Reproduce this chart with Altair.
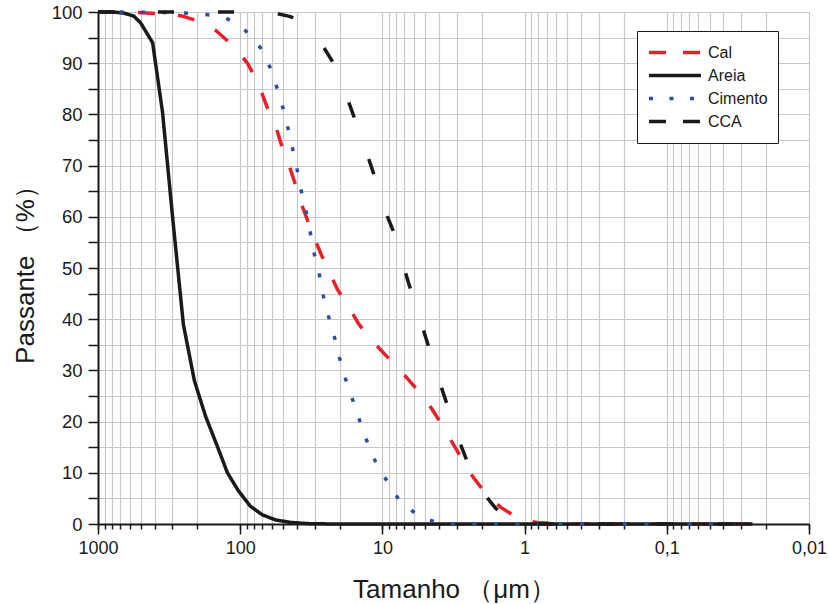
import altair as alt
import pandas as pd

series_names = ["Cal", "Areia", "Cimento", "CCA"]
series_colors = ["#e8202a", "#1a1a1a", "#2b4ea2", "#1a1a1a"]
line_dashes = [[17, 23], [1, 0], [4, 17.5], [16, 44]]
legend_dashes = [[17, 17], [1, 0], [4, 16.5], [17, 17]]

cal_size = [1000, 600, 309, 254, 184, 147, 108, 89, 75.6, 68.5, 61.2, 54.7, 49.6, 45, 40.8, 37.7,
            33.7, 30.5, 26.8, 23.9, 20.7, 17.6, 14.7, 11.9, 9.07, 7.1, 5.49, 4.52, 3.72, 3.21,
            2.69, 2.31, 1.80, 1.46, 1.07, 0.81, 0.6, 0.4, 0.025]
cal_pct = [100, 100, 99.5, 99.2, 97.9, 96.3, 93, 90, 86.4, 83.3, 79.6, 76.6, 72.7, 69.8, 66.2, 63,
           59.4, 56.2, 52.5, 49.6, 45.8, 42.8, 39.1, 35.9, 32.4, 29.3, 25.7, 22.6, 18.9, 15.8,
           12.2, 9.2, 5.3, 3.2, 0.8, 0.3, 0.05, 0, 0]

areia_size = [1000, 800, 662, 560, 502, 413, 352, 299, 251, 210, 175, 144, 123, 103, 85, 70,
              56.5, 44, 32, 20, 0.025]
areia_pct = [100, 100, 99.8, 99.2, 97.9, 94, 80.5, 60, 39, 28, 21, 15, 10, 6.5, 3.5, 1.8,
             0.8, 0.3, 0.05, 0, 0]

cimento_size = [1000, 672, 300, 200, 131, 94.8, 71.9, 61.2, 54.7, 49.6, 45.7, 42.5, 39.5, 37,
                34.2, 32, 30, 27.7, 26, 23.9, 21.7, 20, 18.2, 16.2, 14.5, 12.9, 11.2, 9.2,
                7.35, 5.23, 3.77, 0.025]
cimento_pct = [100, 100, 99.9, 99.7, 99.1, 96.8, 93, 89, 84.9, 80.9, 76.8, 72.9, 68.8, 64.7,
               60.7, 56.6, 52.5, 48.6, 44.5, 40.5, 36.4, 32.4, 28.4, 24.3, 20.3, 16.3, 12.2, 8.2,
               4.0, 1.2, 0, 0]

cca_size = [1000, 200, 61.2, 44.3, 35.9, 30.5, 26, 22.4, 18.5, 16.8, 12.9, 11.9, 9.2, 8.35,
            6.55, 6.04, 5.48, 4.59, 4.24, 3.84, 3.21, 2.97, 2.32, 1.98, 1.60, 1.36, 1.16, 0.91,
            0.025]
cca_pct = [100, 100, 100, 99.1, 97.8, 96, 93.2, 90.3, 84.6, 81.5, 72.5, 69.6, 60, 57.1,
           47.1, 44.1, 40.3, 33.5, 30.4, 26.6, 20.2, 17.2, 9.4, 6.3, 3.1, 1.4, 0.45, 0, 0]

major_ticks = [1000, 100, 10, 1, 0.1, 0.01]
minor_ticks = [round(d * k, 6) for d in [0.01, 0.1, 1, 10, 100] for k in range(1, 10)] + [1000]
y_ticks = list(range(0, 101, 5))

rows = []
for name, sizes, pcts in [("Cal", cal_size, cal_pct), ("Areia", areia_size, areia_pct),
                          ("Cimento", cimento_size, cimento_pct), ("CCA", cca_size, cca_pct)]:
    for i, (s, p) in enumerate(zip(sizes, pcts)):
        rows.append({"serie": name, "size": s, "pct": p, "idx": i})
df = pd.DataFrame(rows)

FONT = "Liberation Sans"
INK = "#1a1a1a"
GRID = "#c8c8cc"

xscale = alt.Scale(type="log", domain=[0.01, 1000], reverse=True, nice=False)
yscale = alt.Scale(domain=[0, 100], nice=False, zero=False)

y_enc = alt.Y(
    "pct:Q", scale=yscale,
    axis=alt.Axis(values=y_ticks, labelExpr="datum.value % 10 == 0 ? datum.label : ''",
                  tickSize=10, tickWidth=1.5, tickColor=INK, grid=True, gridColor=GRID,
                  gridWidth=1.2, domainColor=INK, domainWidth=2, labelFontSize=18.5,
                  labelPadding=6, labelColor=INK, labelFont=FONT,
                  title="Passante （%）", titleFontSize=26, titleFontWeight="normal",
                  titleFont=FONT, titleColor=INK, titleX=-73, titleY=256, titleAngle=270,
                  titleAlign="center", titleBaseline="middle"),
)

grid_layer = alt.Chart(df).mark_point(opacity=0).encode(
    x=alt.X("size:Q", scale=xscale,
            axis=alt.Axis(orient="bottom", values=minor_ticks, grid=True, gridColor=GRID,
                          gridWidth=1.2, ticks=True, tickSize=5, tickWidth=1.5, tickColor=INK,
                          labels=False, domain=False, title=None)),
    y=y_enc,
)

leg = alt.Legend(title=None, orient="none", legendX=539, legendY=19, symbolType="stroke",
                 symbolSize=2704, symbolStrokeWidth=3.5, labelFontSize=16, labelFont=FONT,
                 labelColor=INK, labelOffset=5, padding=10, strokeColor=INK, fillColor="white",
                 clipHeight=23, rowPadding=0, cornerRadius=0)

lines = alt.Chart(df).mark_line(strokeWidth=3.5, strokeCap="butt", strokeJoin="round").encode(
    x=alt.X("size:Q", scale=xscale,
            axis=alt.Axis(orient="bottom", values=major_ticks, grid=False, tickSize=10,
                          tickWidth=1.5, tickColor=INK, domainColor=INK, domainWidth=2,
                          labelExpr="replace(toString(datum.value), '.', ',')",
                          labelFlush=False, labelOverlap=False, labelBound=False,
                          labelFontSize=18, labelFont=FONT, labelColor=INK, labelPadding=5,
                          title="Tamanho （μm）", titleFontSize=26, titleFontWeight="normal",
                          titleFont=FONT, titleColor=INK, titleX=356, titleY=73,
                          titleAlign="center", titleBaseline="alphabetic")),
    y=y_enc,
    color=alt.Color("serie:N", scale=alt.Scale(domain=series_names, range=series_colors), legend=None),
    strokeDash=alt.StrokeDash("serie:N", scale=alt.Scale(domain=series_names, range=line_dashes), legend=None),
    order=alt.Order("idx:Q"),
)

legend_layer = alt.Chart(df).transform_filter("false").mark_line(
    strokeWidth=3.5, strokeCap="butt").encode(
    x=alt.X("size:Q", scale=xscale, axis=None),
    y=y_enc,
    color=alt.Color("serie:N", scale=alt.Scale(domain=series_names, range=series_colors), legend=leg),
    strokeDash=alt.StrokeDash("serie:N", scale=alt.Scale(domain=series_names, range=legend_dashes), legend=leg),
)

chart = alt.layer(grid_layer, lines, legend_layer).resolve_axis(x="independent").resolve_scale(
    strokeDash="independent", color="independent").properties(
    width=711, height=512,
    padding={"left": 98, "top": 12, "right": 19, "bottom": 80},
    autosize=alt.AutoSizeParams(type="none"),
).configure_view(stroke=INK, strokeWidth=2).configure(background="white")

chart.save("out.html", embed_options={"renderer": "svg", "actions": False})
